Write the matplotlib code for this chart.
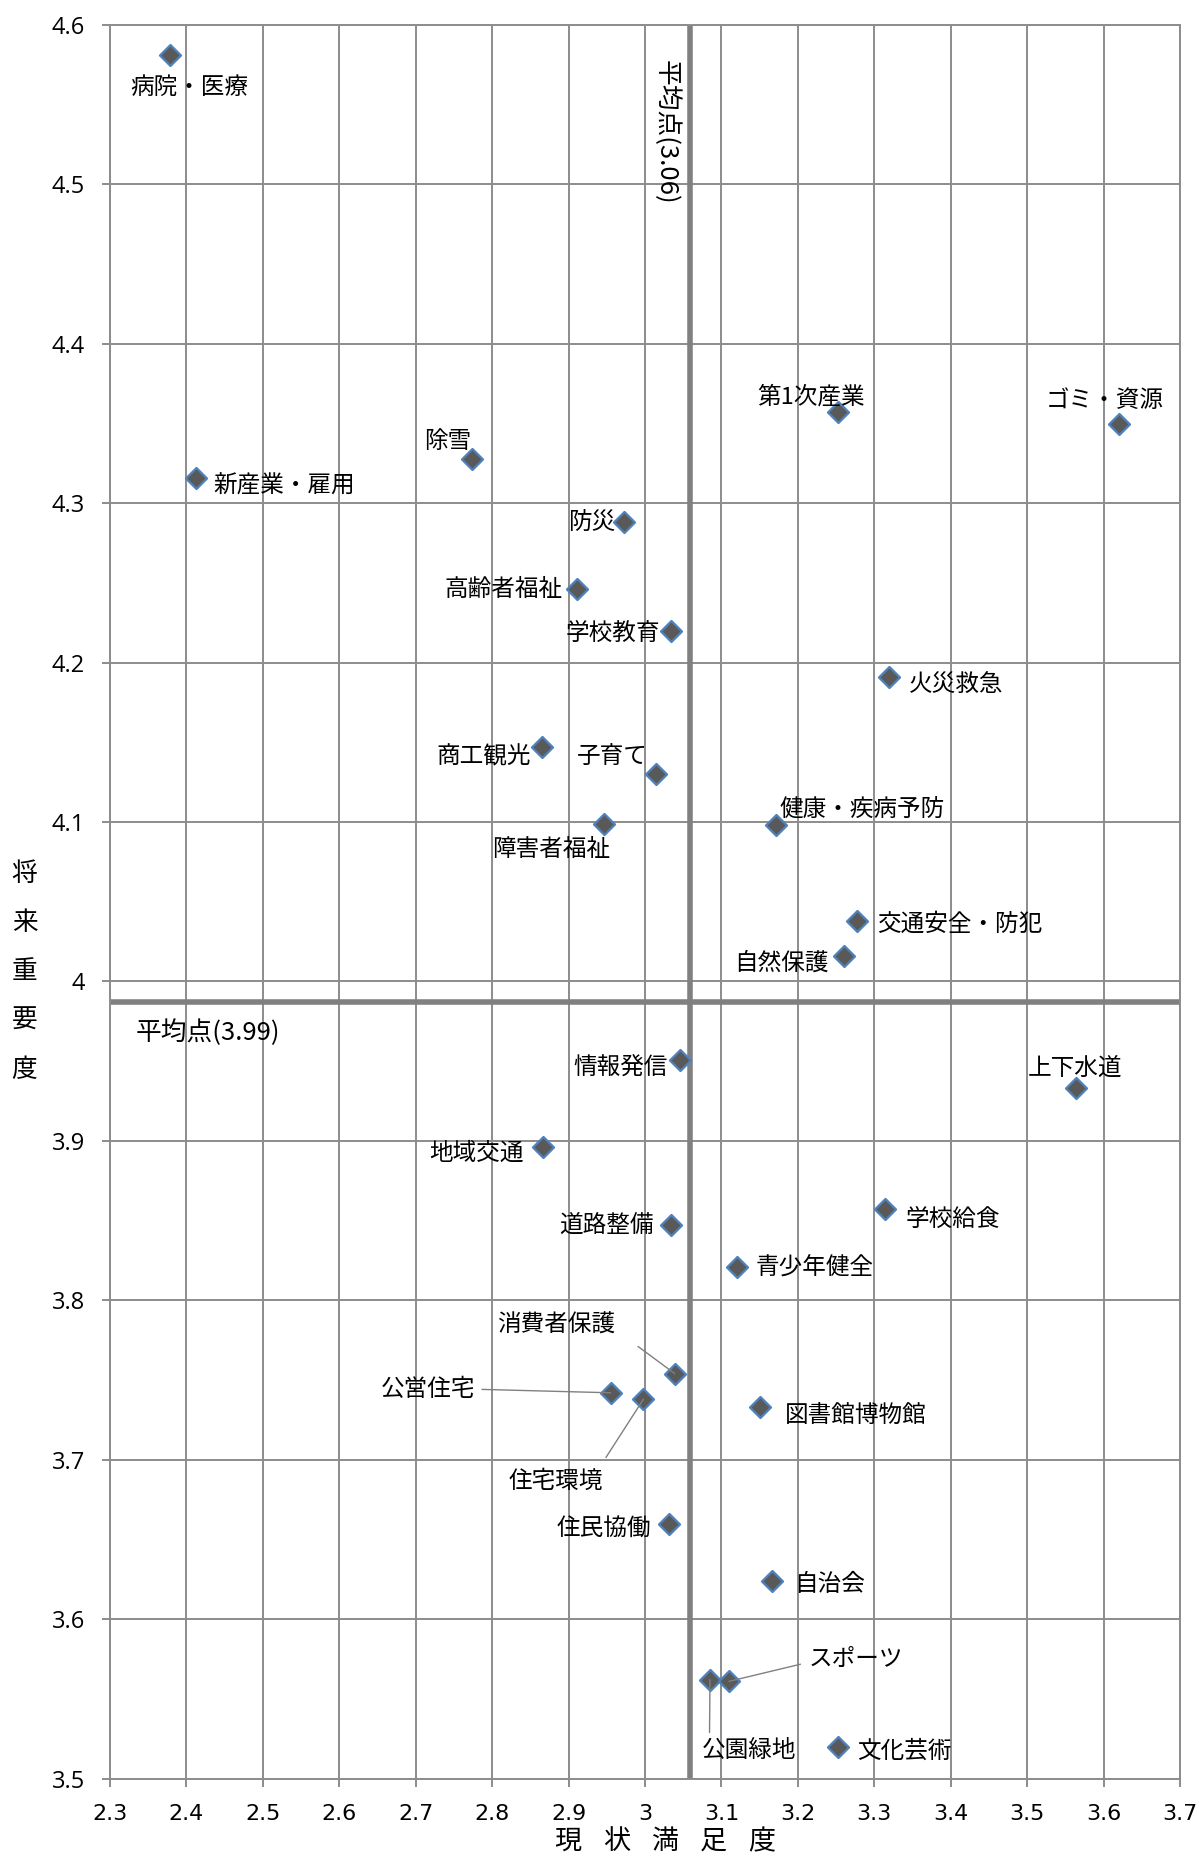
import matplotlib.pyplot as plt

plt.rcParams['font.family'] = ['Noto Sans CJK JP', 'DejaVu Sans']

# satisfaction (x) / future importance (y) per policy item
items = ["病院・医療", "新産業・雇用", "除雪", "防災", "高齢者福祉", "学校教育",
         "第1次産業", "ゴミ・資源", "火災救急", "商工観光", "子育て", "障害者福祉",
         "健康・疾病予防", "交通安全・防犯", "自然保護", "情報発信", "上下水道",
         "地域交通", "道路整備", "学校給食", "青少年健全", "消費者保護", "公営住宅",
         "住宅環境", "図書館博物館", "住民協働", "自治会", "公園緑地", "スポーツ",
         "文化芸術"]
satisfaction = [2.378, 2.412, 2.773, 2.972, 2.911, 3.034,
                3.253, 3.620, 3.319, 2.865, 3.015, 2.947,
                3.171, 3.277, 3.260, 3.046, 3.564,
                2.866, 3.034, 3.314, 3.120, 3.039, 2.955,
                2.998, 3.151, 3.031, 3.166, 3.085, 3.110,
                3.253]
importance = [4.581, 4.316, 4.328, 4.288, 4.246, 4.220,
              4.357, 4.350, 4.191, 4.147, 4.130, 4.099,
              4.098, 4.038, 4.016, 3.951, 3.933,
              3.896, 3.847, 3.857, 3.821, 3.754, 3.742,
              3.738, 3.733, 3.660, 3.624, 3.562, 3.561,
              3.520]
mean_x = 3.059
mean_y = 3.987

xticks = [2.3, 2.4, 2.5, 2.6, 2.7, 2.8, 2.9, 3.0, 3.1, 3.2, 3.3, 3.4, 3.5, 3.6, 3.7]
xticklabels = ["2.3", "2.4", "2.5", "2.6", "2.7", "2.8", "2.9", "3", "3.1", "3.2",
               "3.3", "3.4", "3.5", "3.6", "3.7"]
yticks = [3.5, 3.6, 3.7, 3.8, 3.9, 4.0, 4.1, 4.2, 4.3, 4.4, 4.5, 4.6]
yticklabels = ["3.5", "3.6", "3.7", "3.8", "3.9", "4", "4.1", "4.2", "4.3", "4.4",
               "4.5", "4.6"]
xlabel_chars = ["現", "状", "満", "足", "度"]
ylabel_chars = ["将", "来", "重", "要", "度"]

# label placement: offset (px in a 1009-wide view), horizontal align
label_pos = {
    "病院・医療": (17, 27, "center"),
    "新産業・雇用": (15, 7, "left"),
    "除雪": (-20, -14, "center"),
    "防災": (-7, 0, "right"),
    "高齢者福祉": (-12, 0, "right"),
    "学校教育": (-9, 2, "right"),
    "第1次産業": (-23, -13, "center"),
    "ゴミ・資源": (-12, -19, "center"),
    "火災救急": (17, 6, "left"),
    "商工観光": (-9, 8, "right"),
    "子育て": (-7, -15, "right"),
    "障害者福祉": (-45, 22, "center"),
    "健康・疾病予防": (3, -13, "left"),
    "交通安全・防犯": (17, 3, "left"),
    "自然保護": (-13, 6, "right"),
    "情報発信": (-10, 7, "right"),
    "上下水道": (-1, -17, "center"),
    "地域交通": (-16, 5, "right"),
    "道路整備": (-15, 0, "right"),
    "学校給食": (17, 8, "left"),
    "青少年健全": (16, 1, "left"),
    "図書館博物館": (21, 7, "left"),
    "住民協働": (-15, 4, "right"),
    "自治会": (19, 3, "left"),
    "文化芸術": (16, 4, "left"),
}
# labels joined to their marker by a thin leader line
leader_pos = {
    "消費者保護": (-100, -41, "center", (1.0, 0.3), 18),
    "公営住宅": (-154, -3, "center", (1.0, 0.5), 3),
    "住宅環境": (-74, 69, "center", (0.95, 1.0), 8),
    "公園緑地": (33, 60, "center", (0.08, 1.0), 3),
    "スポーツ": (67, -18, "left", (0.0, 0.4), 4),
}
S = 0.855  # view px -> points
FS = 17

fig = plt.figure(figsize=(11.98, 18.62), dpi=100)
ax = fig.add_axes([0.0918, 0.0448, 0.8932, 0.9418])

grid_c = "#8c8c8c"
ax.set_xlim(2.3, 3.7)
ax.set_ylim(3.5, 4.6)
ax.set_xticks(xticks)
ax.set_xticklabels(xticklabels, fontsize=16, family=["Liberation Sans Narrow", "DejaVu Sans"])
ax.set_yticks(yticks)
ax.set_yticklabels(yticklabels, fontsize=17, family=["Open Sans", "DejaVu Sans"])
ax.grid(True, color=grid_c, linewidth=1.4)
ax.set_axisbelow(True)
for s in ax.spines.values():
    s.set_color(grid_c)
    s.set_linewidth(1.4)
ax.tick_params(axis="both", color=grid_c, width=1.4, length=6)
ax.tick_params(axis="x", pad=12)
ax.tick_params(axis="y", pad=12)

ax.axvline(mean_x, color="#808080", linewidth=4, zorder=2)
ax.axhline(mean_y, color="#808080", linewidth=4, zorder=2)
ax.text(mean_x - 0.014, 4.578, f"平均点({mean_x:.2f})", rotation=270, ha="right",
        va="top", fontsize=18.5)
ax.text(2.333, mean_y - 0.011, f"平均点({mean_y:.2f})", ha="left", va="top", fontsize=18.5)

ax.scatter(satisfaction, importance, marker="D", s=115, facecolor="#595959",
           edgecolor="#4f81bd", linewidth=1.6, zorder=4)

for name, x, y in zip(items, satisfaction, importance):
    if name in label_pos:
        dx, dy, ha = label_pos[name]
        ax.annotate(name, (x, y), xytext=(dx * S, -dy * S), textcoords="offset points",
                    ha=ha, va="center", fontsize=FS, zorder=5)
    else:
        dx, dy, ha, rp, shr = leader_pos[name]
        ax.annotate(name, (x, y), xytext=(dx * S, -dy * S), textcoords="offset points",
                    ha=ha, va="center", fontsize=FS, zorder=5,
                    arrowprops=dict(arrowstyle="-", color="#808080", lw=1,
                                    relpos=rp, shrinkA=shr, shrinkB=0))

for i, ch in enumerate(xlabel_chars):
    fig.text(0.555 + (i - 2) * 0.0406, 0.011, ch, ha="center", va="center", fontsize=19.5)
for i, ch in enumerate(ylabel_chars):
    fig.text(0.0205, 0.478 - (i - 2) * 0.0262, ch, ha="center", va="center", fontsize=18.5)

fig.savefig("out.png", dpi=100, facecolor="white")
